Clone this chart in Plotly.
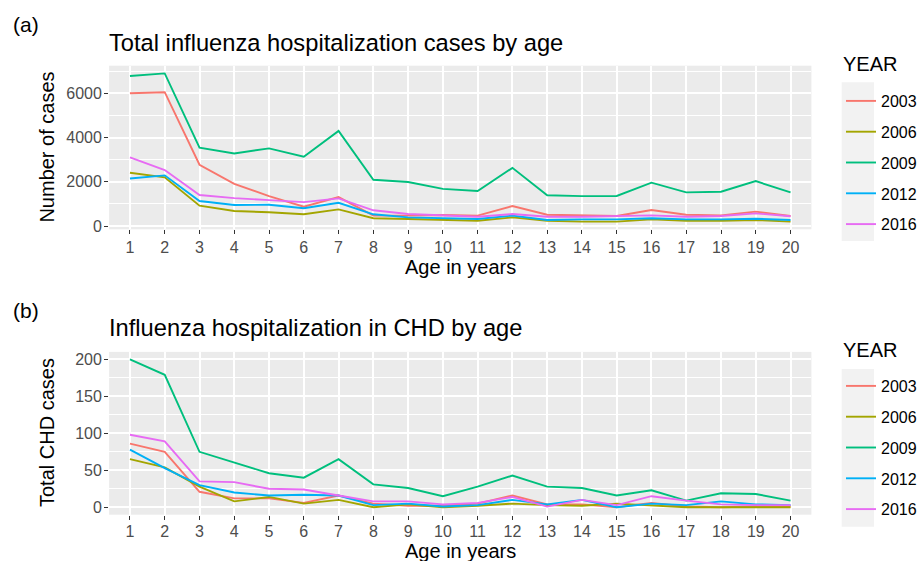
import plotly.graph_objects as go

W, H = 922, 561

ages = list(range(1, 21))
years = ["2003", "2006", "2009", "2012", "2016"]
colors = ["#F8766D", "#A3A500", "#00BF7D", "#00B0F6", "#E76BF3"]

# Panel (a): total influenza hospitalization cases by age
cases_2003 = [6000, 6050, 2770, 1910, 1350, 870, 1310, 470, 470, 500, 470, 900, 510, 480, 450, 720, 510, 480, 650, 450]
cases_2006 = [2410, 2200, 920, 680, 620, 530, 750, 350, 320, 270, 240, 390, 240, 200, 200, 300, 240, 230, 270, 200]
cases_2009 = [6780, 6900, 3540, 3280, 3510, 3130, 4300, 2090, 1990, 1680, 1580, 2630, 1390, 1350, 1360, 1960, 1520, 1550, 2030, 1520]
cases_2012 = [2150, 2290, 1130, 950, 960, 800, 1050, 530, 390, 350, 320, 470, 270, 300, 300, 350, 300, 300, 330, 270]
cases_2016 = [3100, 2530, 1400, 1260, 1170, 1080, 1250, 710, 540, 470, 420, 540, 420, 420, 450, 480, 420, 450, 570, 440]

# Panel (b): influenza hospitalization in CHD by age
chd_2003 = [86, 75, 21, 12, 12, 6, 16, 5, 2, 2, 5, 16, 4, 4, 0, 6, 1, 0, 1, 1]
chd_2006 = [65, 54, 28, 8, 14, 5, 10, 0, 4, 0, 2, 5, 3, 2, 5, 3, 0, 0, 0, 0]
chd_2009 = [200, 179, 75, 61, 46, 40, 65, 31, 26, 15, 28, 43, 28, 26, 16, 23, 9, 19, 18, 9]
chd_2012 = [78, 53, 30, 20, 16, 17, 16, 3, 5, 1, 3, 10, 4, 10, 0, 5, 3, 8, 4, 3]
chd_2016 = [98, 89, 35, 34, 25, 24, 16, 8, 8, 4, 6, 14, 1, 10, 3, 15, 9, 4, 3, 3]

cases = [cases_2003, cases_2006, cases_2009, cases_2012, cases_2016]
chd = [chd_2003, chd_2006, chd_2009, chd_2012, chd_2016]

FONT = "Liberation Sans, Arial, Helvetica, sans-serif"
PANEL = "#EBEBEB"

def px_x(p):
    return p / W

def px_y(p):
    return 1 - p / H

fig = go.Figure()

for yr, col, vals in zip(years, colors, cases):
    fig.add_trace(go.Scatter(x=ages, y=vals, mode="lines", name=yr,
                             line=dict(color=col, width=1.9),
                             xaxis="x", yaxis="y", legend="legend",
                             legendgroup="a" + yr))
for yr, col, vals in zip(years, colors, chd):
    fig.add_trace(go.Scatter(x=ages, y=vals, mode="lines", name=yr,
                             line=dict(color=col, width=1.9),
                             xaxis="x2", yaxis="y2", legend="legend2",
                             legendgroup="b" + yr))

xdom = [px_x(109.1), px_x(811.4)]

common_x = dict(range=[0.4, 20.6], tickmode="linear", tick0=1, dtick=1,
                showgrid=True, gridcolor="white", gridwidth=2,
                zeroline=False, showline=False,
                ticks="outside", ticklen=4, tickwidth=1.3, tickcolor="#333333",
                tickfont=dict(family=FONT, size=16, color="#4D4D4D"),
                automargin=False, domain=xdom, fixedrange=True)

common_y = dict(showgrid=True, gridcolor="white", gridwidth=2,
                zeroline=False, showline=False,
                ticks="outside", ticklen=4, tickwidth=1.3, tickcolor="#333333",
                tickfont=dict(family=FONT, size=16, color="#4D4D4D"),
                ticklabelstandoff=-1,
                automargin=False, fixedrange=True)

legend_common = dict(xref="container", yref="container",
                     xanchor="left", yanchor="top",
                     bgcolor="rgba(0,0,0,0)", tracegroupgap=7,
                     font=dict(family=FONT, size=16, color="black"))

fig.update_layout(
    width=W, height=H,
    margin=dict(l=0, r=0, t=0, b=0, autoexpand=False),
    paper_bgcolor="white",
    plot_bgcolor=PANEL,
    font=dict(family=FONT, color="black"),
    xaxis=dict(**common_x, anchor="y", ticklabelstandoff=-1),
    yaxis=dict(**common_y, anchor="x", range=[-149, 7249],
               domain=[px_y(229.3), px_y(65.7)],
               tickmode="array", tickvals=[0, 2000, 4000, 6000],
               ticktext=["0", "2000", "4000", "6000"],
               minor=dict(tickmode="array", tickvals=[1000, 3000, 5000, 7000],
                          showgrid=True, gridcolor="white", gridwidth=1, ticks="")),
    xaxis2=dict(**common_x, anchor="y2", ticklabelstandoff=-2),
    yaxis2=dict(**common_y, anchor="x2", range=[-10, 210],
                domain=[px_y(514.7), px_y(351.9)],
                tickmode="array", tickvals=[0, 50, 100, 150, 200],
                ticktext=["0", "50", "100", "150", "200"],
                minor=dict(tickmode="array", tickvals=[25, 75, 125, 175],
                           showgrid=True, gridcolor="white", gridwidth=1, ticks="")),
    legend=dict(**legend_common, x=px_x(841), y=px_y(84)),
    legend2=dict(**legend_common, x=px_x(841), y=px_y(369)),
    showlegend=True,
)

# legend key background columns
for y0, y1 in [(82.3, 241), (369, 526.7)]:
    fig.add_shape(type="rect", xref="paper", yref="paper",
                  x0=px_x(841.7), x1=px_x(874), y0=px_y(y1), y1=px_y(y0),
                  fillcolor="#F2F2F2", line=dict(width=0), layer="below")

def ann(text, x, y, size, xanchor="center", angle=0, color="black"):
    fig.add_annotation(text=text, x=px_x(x), y=px_y(y), xref="paper", yref="paper",
                       xanchor=xanchor, yanchor="middle", showarrow=False,
                       textangle=angle, font=dict(family=FONT, size=size, color=color))

ann("(a)", 11, 25, 21, xanchor="left")
ann("(b)", 11, 310, 21, xanchor="left")
ann("Total influenza hospitalization cases by age", 107, 43, 23.7, xanchor="left")
ann("Influenza hospitalization in CHD by age", 107, 328, 23.7, xanchor="left")
ann("Number of cases", 47, 147.6, 20, angle=-90)
ann("Total CHD cases", 47, 433, 20, angle=-90)
ann("Age in years", 460, 267, 20)
ann("Age in years", 460, 550.5, 20)
ann("YEAR", 841, 64, 20, xanchor="left")
ann("YEAR", 841, 350, 20, xanchor="left")

fig.write_html("out.html",
               config={"displayModeBar": False},
               post_script="document.body.style.margin='0';document.body.style.overflow='hidden';")
